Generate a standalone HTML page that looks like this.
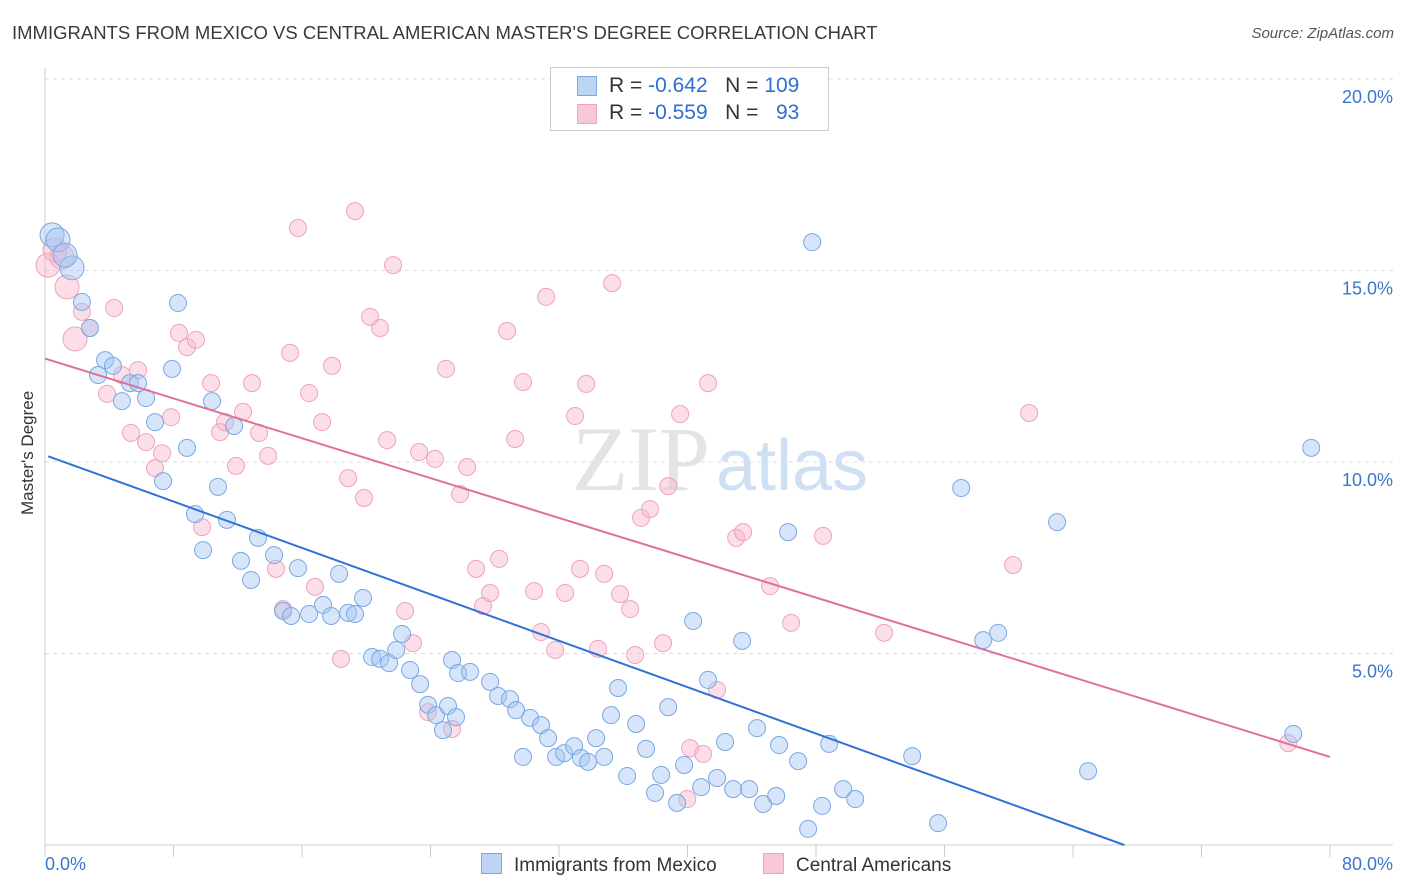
<!DOCTYPE html>
<html><head><meta charset="utf-8"><style>
body{margin:0;background:#fff;font-family:"Liberation Sans",sans-serif;}
#wrap{position:relative;width:1406px;height:892px;overflow:hidden;}
.t{position:absolute;white-space:nowrap;}
</style></head><body>
<div id="wrap">
<div class="t" style="left:12px;top:22px;font-size:18.5px;color:#3a3a3a;">IMMIGRANTS FROM MEXICO VS CENTRAL AMERICAN MASTER'S DEGREE CORRELATION CHART</div>
<div class="t" style="right:12px;top:25px;font-size:15px;color:#555;font-style:italic;">Source: ZipAtlas.com</div>
<div class="t" style="left:-32px;top:445px;font-size:17px;color:#333;transform:rotate(-90deg);width:120px;text-align:center;">Master's Degree</div>
<svg id="chart" width="1406" height="892" style="position:absolute;left:0;top:0"></svg>
</div>
<script>
const xTickVals=[0,8,16,24,32,40,48,56,64,72,80];
const yTickVals=[5,10,15,20];
const yTickLabels=["5.0%","10.0%","15.0%","20.0%"];
const blueX=[0.44,0.81,1.68,1.25,2.30,2.80,3.74,4.23,3.30,5.29,5.79,4.79,6.29,7.91,8.28,10.40,11.77,6.85,8.84,7.35,10.77,9.34,11.33,9.84,13.26,12.20,14.26,12.83,15.75,18.31,14.82,15.32,16.44,17.31,17.81,18.87,19.80,19.30,20.36,20.86,21.42,21.86,22.23,22.73,23.35,25.34,25.72,26.46,23.85,24.35,24.78,25.09,25.59,27.71,28.21,28.95,29.33,30.20,30.88,31.32,29.76,31.82,32.32,32.94,33.37,33.81,34.31,34.81,35.24,35.68,36.80,36.24,37.42,37.98,38.36,38.80,39.35,39.79,40.35,40.85,41.28,41.84,42.34,42.84,43.40,43.84,44.33,44.71,45.52,45.70,46.26,46.89,47.51,47.76,48.38,48.82,49.69,50.44,53.99,55.60,57.04,58.41,59.34,63.01,64.94,77.71,78.83];
const blueY=[15.93,15.80,15.07,15.40,14.18,13.50,12.66,12.51,12.27,12.06,12.06,11.59,11.67,12.43,14.15,11.59,10.94,11.04,10.37,9.50,9.35,8.64,8.49,7.70,8.02,7.42,7.57,6.92,7.23,7.08,6.11,5.98,6.03,6.27,5.98,6.06,6.45,6.03,4.91,4.86,4.75,5.09,5.51,4.57,4.20,4.83,4.49,4.52,3.66,3.39,3.00,3.63,3.34,4.26,3.89,3.81,3.52,3.32,3.13,2.79,2.30,2.30,2.40,2.58,2.27,2.17,2.79,2.30,3.39,4.10,3.16,1.80,2.51,1.36,1.83,3.60,1.10,2.09,5.85,1.51,4.31,1.75,2.69,1.46,5.33,1.46,3.05,1.07,1.28,2.61,8.17,2.19,0.42,15.74,1.02,2.64,1.46,1.20,2.32,0.57,9.32,5.35,5.54,8.43,1.93,2.90,10.37];
const pinkX=[0.19,0.62,1.06,1.37,1.87,2.30,2.80,3.86,4.30,4.79,5.35,5.79,6.29,6.85,7.29,7.85,8.34,8.84,9.40,9.78,10.34,10.90,11.21,11.89,12.33,12.89,13.33,13.89,14.38,14.82,15.26,15.75,16.44,16.81,17.25,17.87,18.43,18.87,19.30,19.86,20.24,20.86,21.30,21.67,22.42,22.91,23.29,23.85,24.28,24.97,25.34,25.84,26.28,26.84,27.27,27.71,28.27,28.77,29.27,29.76,30.45,30.88,31.20,31.76,32.38,33.00,33.31,33.69,34.43,34.81,35.31,35.80,36.43,36.74,37.11,37.67,38.48,38.80,39.54,39.98,40.16,40.97,41.28,41.84,43.03,43.46,45.14,46.45,48.44,52.24,60.27,61.27,77.40];
const pinkY=[15.14,15.54,15.35,14.57,13.21,13.92,13.50,11.78,14.02,12.27,10.76,12.40,10.52,9.84,10.23,11.17,13.37,13.00,13.19,8.30,12.06,10.78,11.04,9.90,11.31,12.06,10.76,10.16,7.21,6.16,12.85,16.11,11.80,6.74,11.04,12.51,4.86,9.58,16.55,9.06,13.79,13.50,10.57,15.14,6.11,5.27,10.26,3.47,10.08,12.43,3.03,9.16,9.87,7.21,6.24,6.58,7.47,13.42,10.60,12.09,6.63,5.56,14.31,5.09,6.58,11.20,7.21,12.04,5.12,7.08,14.67,6.55,6.16,4.96,8.54,8.77,5.27,9.37,11.25,1.20,2.53,2.38,12.06,4.05,8.02,8.17,6.76,5.80,8.07,5.54,7.31,11.28,2.66];
const blueTrend=[10.18,-0.1515];
const pinkTrend=[12.7,-0.13];

const svg=document.getElementById('chart');
const NS='http://www.w3.org/2000/svg';
const X0=45,X1=1330,Y0=845,PY=38.3;
const sx=v=>X0+v/80*(X1-X0);
const sy=v=>Y0-v*PY;
function mk(tag,attrs){const e=document.createElementNS(NS,tag);for(const k in attrs)e.setAttribute(k,attrs[k]);svg.appendChild(e);return e;}
yTickVals.forEach((v,i)=>{
 const g=mk('line',{x1:X0,x2:1393,y1:sy(v),y2:sy(v),stroke:'#dcdcdc','stroke-dasharray':'4,4'});
 
 
 const t=mk('text',{x:1393,y:sy(v)+24,'text-anchor':'end','font-size':18,fill:'#3a76d0','font-family':'Liberation Sans, sans-serif'});
 t.textContent=yTickLabels[i];
 
 
});
const ax=mk('line',{x1:X0,x2:X0,y1:68,y2:Y0,stroke:'#ccc'});


const bx=mk('line',{x1:X0,x2:1393,y1:Y0,y2:Y0,stroke:'#ccc'});


xTickVals.forEach(v=>{
 const l=mk('line',{x1:sx(v),x2:sx(v),y1:Y0,y2:Y0+12,stroke:'#ccc'});
 
 
});
[[0,'0.0%','start',45],[80,'80.0%','end',1393]].forEach(a=>{
 const t=mk('text',{x:a[3],y:870,'text-anchor':a[2],'font-size':18,fill:'#3a76d0','font-family':'Liberation Sans, sans-serif'});
 t.textContent=a[1];
 
 
});
const wm=mk('text',{x:720,y:490,'text-anchor':'middle','font-size':92,'font-family':'Liberation Serif, serif',fill:'#e4e4e4'});
wm.innerHTML='ZIP<tspan font-family="Liberation Sans, sans-serif" font-size="72" fill="#cfe0f4" dx="6">atlas</tspan>';


function pts(xs,ys,fill,stroke,name){
 xs.forEach((x,i)=>{
  const r=x<2?12:8.5;
  const c=mk('circle',{cx:sx(x),cy:sy(ys[i]),r:r,fill:fill,stroke:stroke,'stroke-width':1});
  
  
 });
}
pts(pinkX,pinkY,'rgba(248,182,204,0.45)','#eea3bd','point-central-americans');
pts(blueX,blueY,'rgba(164,198,242,0.45)','#7ba8e2','point-mexico');
const bxEnd=-blueTrend[0]/blueTrend[1];
const bl=mk('line',{x1:sx(0.2),y1:sy(blueTrend[0]+blueTrend[1]*0.2),x2:sx(bxEnd),y2:sy(0),stroke:'#2f72d8','stroke-width':2});


const pl=mk('line',{x1:sx(0),y1:sy(pinkTrend[0]),x2:sx(80),y2:sy(pinkTrend[0]+pinkTrend[1]*80),stroke:'#e0709a','stroke-width':2});


</script>
<div class="t" style="left:550px;top:67px;width:277px;height:62px;border:1px solid #ccc;background:#fff;font-size:21px;color:#333;">
 <div style="position:absolute;left:26px;top:8px;width:18px;height:18px;background:#bcd5f5;border:1px solid #7ba8e2;"></div>
 <div style="position:absolute;left:58px;top:6px;">R = <span style="color:#2f6fd0">-0.642</span>&nbsp;&nbsp;&nbsp;N = <span style="color:#2f6fd0">109</span></div>
 <div style="position:absolute;left:26px;top:36px;width:18px;height:18px;background:#f9c8d7;border:1px solid #eea3bd;"></div>
 <div style="position:absolute;left:58px;top:33px;">R = <span style="color:#2f6fd0">-0.559</span>&nbsp;&nbsp;&nbsp;N = &nbsp;&nbsp;<span style="color:#2f6fd0">93</span></div>
</div>
<div class="t" style="left:481px;top:853px;font-size:19px;color:#333;"><span style="display:inline-block;width:19px;height:19px;background:#bcd5f5;border:1px solid #7ba8e2;vertical-align:-3px;margin-right:12px;"></span>Immigrants from Mexico</div>
<div class="t" style="left:763px;top:853px;font-size:19px;color:#333;"><span style="display:inline-block;width:19px;height:19px;background:#f9c8d7;border:1px solid #eea3bd;vertical-align:-3px;margin-right:12px;"></span>Central Americans</div>
</body></html>
